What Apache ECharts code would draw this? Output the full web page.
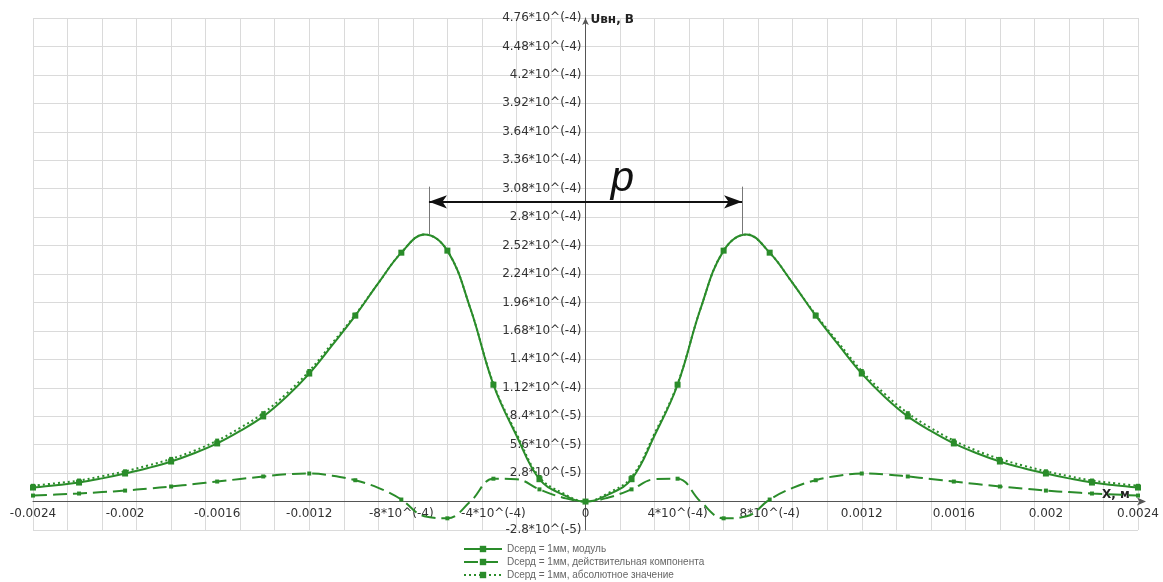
<!DOCTYPE html>
<html>
<head>
<meta charset="utf-8">
<script src="https://cdn.jsdelivr.net/npm/echarts@6/dist/echarts.min.js"></script>
<style>
  html, body { margin: 0; padding: 0; background: #fff; }
  #chart { width: 1163px; height: 582px; }
</style>
</head>
<body>
<div id="chart"></div>
<script>
// ---------------------------------------------------------------------------
// Data
// ---------------------------------------------------------------------------
const xValues = [
  -0.0024, -0.0023, -0.0022, -0.0021, -0.002, -0.0019, -0.0018, -0.0017,
  -0.0016, -0.0015, -0.0014, -0.0013, -0.0012, -0.0011, -0.001, -0.0009,
  -0.0008, -0.0007, -0.0006, -0.0005, -0.0004, -0.0003, -0.0002, -0.0001,
  0,
  0.0001, 0.0002, 0.0003, 0.0004, 0.0005, 0.0006, 0.0007, 0.0008,
  0.0009, 0.001, 0.0011, 0.0012, 0.0013, 0.0014, 0.0015, 0.0016,
  0.0017, 0.0018, 0.0019, 0.002, 0.0021, 0.0022, 0.0023, 0.0024,
];

// Dсерд = 1мм, модуль
const moduleValues = [
  1.38e-5, 1.6e-5, 1.87e-5, 2.28e-5, 2.76e-5, 3.3e-5, 3.94e-5, 4.75e-5,
  5.72e-5, 6.95e-5, 8.38e-5, 1.03e-4, 1.26e-4, 1.54e-4, 1.83e-4, 2.15e-4,
  2.45e-4, 2.63e-4, 2.47e-4, 1.9e-4, 1.15e-4, 6.5e-5, 2.2e-5, 7e-6,
  0,
  7e-6, 2.2e-5, 6.5e-5, 1.15e-4, 1.9e-4, 2.47e-4, 2.63e-4, 2.45e-4,
  2.15e-4, 1.83e-4, 1.54e-4, 1.26e-4, 1.03e-4, 8.38e-5, 6.95e-5, 5.72e-5,
  4.75e-5, 3.94e-5, 3.3e-5, 2.76e-5, 2.28e-5, 1.87e-5, 1.6e-5, 1.38e-5,
];

// Dсерд = 1мм, действительная компонента
const realValues = [
  5.9e-6, 6.9e-6, 7.9e-6, 9.3e-6, 1.08e-5, 1.28e-5, 1.48e-5, 1.72e-5,
  1.97e-5, 2.22e-5, 2.47e-5, 2.68e-5, 2.76e-5, 2.55e-5, 2.1e-5, 1.35e-5,
  2e-6, -1.45e-5, -1.65e-5, 0, 2.25e-5, 2.2e-5, 1.2e-5, 4e-6,
  0,
  4e-6, 1.2e-5, 2.2e-5, 2.25e-5, 0, -1.65e-5, -1.45e-5, 2e-6,
  1.35e-5, 2.1e-5, 2.55e-5, 2.76e-5, 2.68e-5, 2.47e-5, 2.22e-5, 1.97e-5,
  1.72e-5, 1.48e-5, 1.28e-5, 1.08e-5, 9.3e-6, 7.9e-6, 6.9e-6, 5.9e-6,
];

// Dсерд = 1мм, абсолютное значение
const absValues = [
  1.55e-5, 1.8e-5, 2.07e-5, 2.5e-5, 2.98e-5, 3.55e-5, 4.2e-5, 5.0e-5,
  6.0e-5, 7.25e-5, 8.7e-5, 1.06e-4, 1.285e-4, 1.56e-4, 1.84e-4, 2.15e-4,
  2.45e-4, 2.63e-4, 2.47e-4, 1.9e-4, 1.16e-4, 6.7e-5, 2.4e-5, 8.5e-6,
  0,
  8.5e-6, 2.4e-5, 6.7e-5, 1.16e-4, 1.9e-4, 2.47e-4, 2.63e-4, 2.45e-4,
  2.15e-4, 1.84e-4, 1.56e-4, 1.285e-4, 1.06e-4, 8.7e-5, 7.25e-5, 6.0e-5,
  5.0e-5, 4.2e-5, 3.55e-5, 2.98e-5, 2.5e-5, 2.07e-5, 1.8e-5, 1.55e-5,
];

const seriesNames = [
  "Dсерд = 1мм, модуль",
  "Dсерд = 1мм, действительная компонента",
  "Dсерд = 1мм, абсолютное значение",
];

// peak positions and the "p" arrow
const peakX = [-0.00068, 0.00068];
const peakY = 2.63e-4;
const arrowY = 2.95e-4;
const guideTopY = 3.1e-4;

// axis ranges
const xMin = -0.0024, xMax = 0.0024, xLabelStep = 0.0004, xGridStep = 0.00015;
const yMin = -2.8e-5, yMax = 4.76e-4, yStep = 2.8e-5;

// ---------------------------------------------------------------------------
const green = "#2a8c2a";
const axisFont = "DejaVu Sans";

const fmt = (v) => {
  const a = Math.abs(v);
  if (a < 1e-12) return "0";
  if (a >= 1e-3) return String(+v.toPrecision(6));
  const e = Math.floor(Math.log10(a) + 1e-9);
  const m = +(v / Math.pow(10, e)).toPrecision(4);
  return `${m}*10^(${e})`;
};

const pairs = (ys) => xValues.map((x, i) => [x, ys[i]]);
const markEvery = (size) => (val, params) =>
  params.dataIndex % 2 === 0 ? size : 0;

const chart = echarts.init(document.getElementById("chart"), null, {
  renderer: "canvas",
});

const option = {
  backgroundColor: "#fff",
  animation: false,
  grid: {
    left: 33,
    right: 25,
    top: 18,
    bottom: 52,
    containLabel: false,
    outerBoundsMode: "none",
  },
  legend: {
    orient: "vertical",
    left: 463,
    top: 543,
    itemGap: 1,
    itemWidth: 38,
    itemHeight: 8,
    padding: 0,
    textStyle: {
      fontFamily: "Liberation Sans",
      fontSize: 10,
      lineHeight: 12,
      color: "#666",
    },
    data: seriesNames,
  },
  xAxis: [
    {
      // grid only
      type: "value",
      position: "bottom",
      min: xMin,
      max: xMax,
      interval: xGridStep,
      axisLine: { show: false, onZero: false },
      axisTick: { show: false },
      axisLabel: { show: false },
      splitLine: { show: true, lineStyle: { color: "#dadada", width: 1 } },
    },
    {
      type: "value",
      position: "bottom",
      offset: 0,
      min: xMin,
      max: xMax,
      interval: xLabelStep,
      name: "X, м",
      nameLocation: "end",
      nameGap: -36,
      nameTextStyle: {
        fontFamily: axisFont,
        fontSize: 12,
        fontWeight: "bold",
        color: "#222",
        align: "left",
        verticalAlign: "bottom",
        padding: [0, 0, 1, 0],
      },
      axisLine: {
        onZero: false,
        symbol: ["none", "arrow"],
        symbolSize: [6, 9],
        symbolOffset: [0, 8],
        lineStyle: { color: "#555", width: 1 },
      },
      axisTick: { show: false },
      splitLine: { show: false },
      axisLabel: {
        formatter: fmt,
        fontFamily: axisFont,
        fontSize: 12,
        color: "#333",
        margin: 6,
        showMinLabel: true,
        showMaxLabel: true,
      },
    },
  ],
  yAxis: {
    type: "value",
    position: "left",
    offset: 0,
    min: yMin,
    max: yMax,
    interval: yStep,
    name: "Uвн, В",
    nameLocation: "end",
    nameGap: -2,
    nameTextStyle: {
      fontFamily: axisFont,
      fontSize: 12,
      fontWeight: "bold",
      color: "#222",
      align: "left",
      verticalAlign: "middle",
      padding: [0, 0, 0, 5],
    },
    axisLine: {
      onZero: false,
      symbol: ["none", "arrow"],
      symbolSize: [5, 7],
      lineStyle: { color: "#555", width: 1 },
    },
    axisTick: { show: false },
    axisLabel: {
      formatter: (v) => (Math.abs(v) < 1e-12 ? "" : fmt(v)),
      fontFamily: axisFont,
      fontSize: 12,
      color: "#333",
      margin: 4,
    },
    splitLine: { show: true, lineStyle: { color: "#dadada", width: 1 } },
  },
  series: [
    {
      name: seriesNames[2],
      type: "line",
      xAxisIndex: 1,
      data: pairs(absValues),
      smooth: 0.4,
      symbol: "rect",
      symbolSize: markEvery(4),
      showAllSymbol: true,
      z: 2,
      itemStyle: { color: green },
      lineStyle: { color: green, width: 2, type: [2, 3] },
    },
    {
      name: seriesNames[1],
      type: "line",
      xAxisIndex: 1,
      data: pairs(realValues),
      smooth: 0.4,
      symbol: "rect",
      symbolSize: markEvery(4),
      showAllSymbol: true,
      z: 3,
      itemStyle: { color: green },
      lineStyle: { color: green, width: 2, type: [14, 6] },
    },
    {
      name: seriesNames[0],
      type: "line",
      xAxisIndex: 1,
      data: pairs(moduleValues),
      smooth: 0.4,
      symbol: "rect",
      symbolSize: markEvery(6),
      showAllSymbol: true,
      z: 4,
      itemStyle: { color: green },
      lineStyle: { color: green, width: 2 },
      markLine: {
        silent: true,
        symbol: ["none", "none"],
        label: { show: false },
        data: [
          [
            { coord: [peakX[0], peakY], lineStyle: { color: "#777", width: 1, type: "solid" } },
            { coord: [peakX[0], guideTopY] },
          ],
          [
            { coord: [peakX[1], peakY], lineStyle: { color: "#777", width: 1, type: "solid" } },
            { coord: [peakX[1], guideTopY] },
          ],
          [
            {
              coord: [peakX[0], arrowY],
              symbol: "arrow",
              symbolSize: [10, 18],
              lineStyle: { color: "#111", width: 2, type: "solid" },
            },
            { coord: [peakX[1], arrowY], symbol: "arrow", symbolSize: [10, 18] },
          ],
        ],
      },
      markPoint: {
        silent: true,
        symbol: "circle",
        symbolSize: 0,
        data: [
          {
            coord: [0.00016, 3.17e-4],
            label: {
              show: true,
              position: "inside",
              formatter: "p",
              fontFamily: "Liberation Sans",
              fontStyle: "italic",
              fontSize: 42,
              color: "#111",
            },
          },
        ],
      },
    },
  ],
};

chart.setOption(option);

// move both labelled axes onto the origin (labels follow the axis line)
const origin = chart.convertToPixel({ xAxisIndex: 1, yAxisIndex: 0 }, [0, 0]);
const corner = chart.convertToPixel({ xAxisIndex: 1, yAxisIndex: 0 }, [xMin, yMin]);
chart.setOption({
  xAxis: [{}, { offset: -(corner[1] - origin[1]) }],
  yAxis: { offset: -(origin[0] - corner[0]) },
});
</script>
</body>
</html>
